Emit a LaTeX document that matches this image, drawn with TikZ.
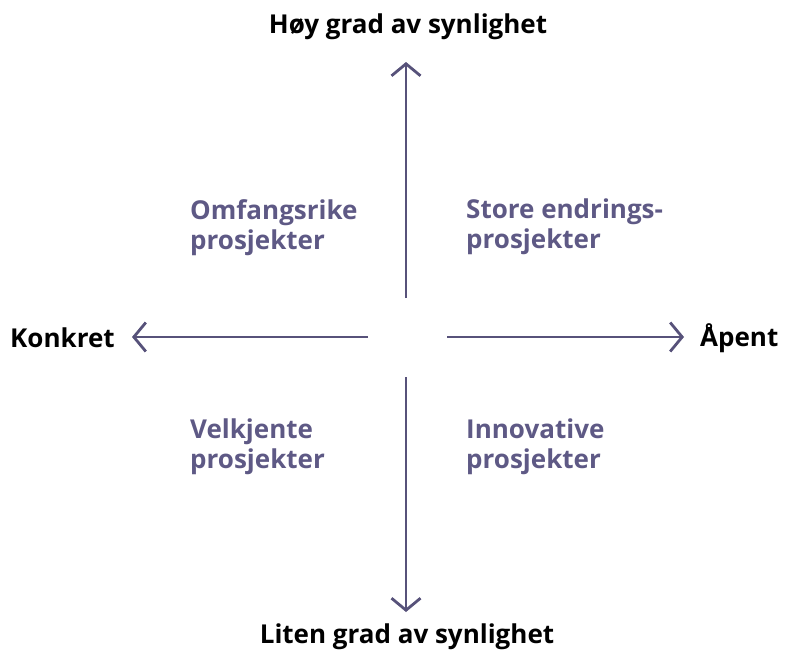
\documentclass[tikz,border=0pt]{standalone}
\usepackage{fontspec}
\setmainfont{Open Sans}
\usetikzlibrary{arrows.meta}
\definecolor{axisviolet}{HTML}{57527A}
\definecolor{quadviolet}{HTML}{5E5985}
\tikzset{axisarrow/.style={draw=axisviolet, line width=2.8pt,
    -{Straight Barb[length=12pt, width=29pt, line width=2.8pt]}},
  axislabel/.style={font=\bfseries\fontsize{26}{29}\selectfont, text=black, inner sep=0pt},
  quadlabel/.style={font=\bfseries\fontsize{26}{30}\selectfont, text=quadviolet,
    align=left, anchor=north west, inner sep=0pt}
}

\begin{document}
\begin{tikzpicture}[x=1pt, y=-1pt]
  \useasboundingbox (0,0) rectangle (787,659);
  \coordinate (o) at (406,337);
  % axes
  \coordinate (n1) at (406,298); \coordinate (n2) at (406,62);
  \coordinate (s1) at (406,377); \coordinate (s2) at (406,612);
  \coordinate (w1) at (368,337); \coordinate (w2) at (132,337);
  \coordinate (e1) at (447,337); \coordinate (e2) at (684,337);
  \draw[axisarrow] (n1) -- (n2);
  \draw[axisarrow] (s1) -- (s2);
  \draw[axisarrow] (w1) -- (w2);
  \draw[axisarrow] (e1) -- (e2);
  % axis labels
  \node[axislabel] (top) at (408,27) {Høy grad av synlighet};
  \node[axislabel] (bottom) at (407,637) {Liten grad av synlighet};
  \node[axislabel, anchor=west] (left) at (10,338) {Konkret};
  \node[axislabel, anchor=west] (right) at (700,338) {Åpent};
  % quadrants
  \node[quadlabel] (nw) at (190,199) {Omfangsrike\\prosjekter};
  \node[quadlabel] (ne) at (466,199) {Store endrings-\\prosjekter};
  \node[quadlabel] (sw) at (190,419) {Velkjente\\prosjekter};
  \node[quadlabel] (se) at (466,419) {Innovative\\prosjekter};
\end{tikzpicture}
\end{document}
